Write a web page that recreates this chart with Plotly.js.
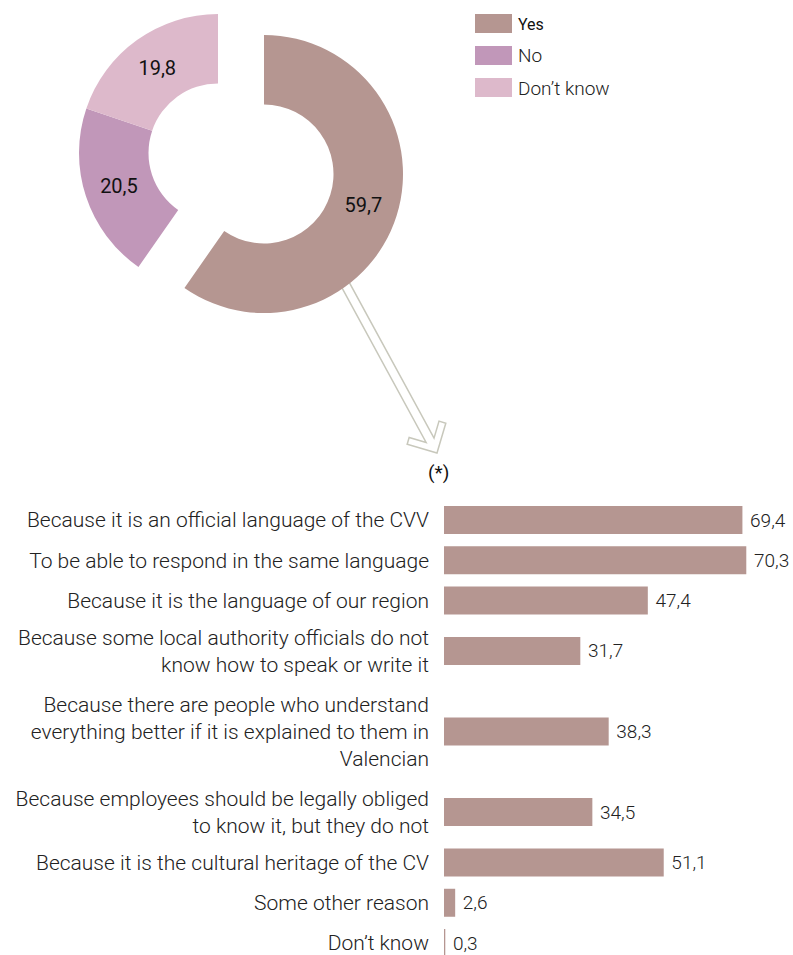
<!DOCTYPE html>
<html><head><meta charset="utf-8">
<script src="https://cdn.plot.ly/plotly-3.0.1.min.js"></script>
<style>html,body{margin:0;padding:0;background:#fff}</style>
</head><body>
<div id="chart" style="width:793px;height:955px"></div>
<script>
// ---- data ----
const pieLabels = ["Yes", "No", "Don’t know"];
const pieValues = [59.7, 20.5, 19.8];

const barCategories = [
  "Because it is an official language of the CVV",
  "To be able to respond in the same language",
  "Because it is the language of our region",
  "Because some local authority officials do not<br>know how to speak or write it",
  "Because there are people who understand<br>everything better if it is explained to them in<br>Valencian",
  "Because employees should be legally obliged<br>to know it, but they do not",
  "Because it is the cultural heritage of the CV",
  "Some other reason",
  "Don’t know"
];
const barValues = [69.4, 70.3, 47.4, 31.7, 38.3, 34.5, 51.1, 2.6, 0.3];

// ---- styling / layout helpers ----
const W = 793, H = 955;
const px = x => x / W, py = y => 1 - y / H;
const pieColors = ["#b59691", "#c197b9", "#ddb9cb"];
const barColor = "#b59691";
const clear = "rgba(0,0,0,0)";
const fmt = v => v.toFixed(1).replace('.', ',');
const FONT = "'Roboto Light', Roboto, 'Open Sans', sans-serif";

// pie: unexploded part (No, Don't know) and exploded Yes slice as two traces
const pieCommon = {
  type: 'pie', labels: pieLabels, values: pieValues, hole: 0.5,
  sort: false, direction: 'clockwise', rotation: 0,
  textinfo: 'text', textposition: 'inside', insidetextorientation: 'horizontal',
  insidetextfont: {family: "Roboto, sans-serif", size: 20, color: '#111', weight: 400},
  hoverinfo: 'skip', showlegend: false, marker: {line: {width: 0}}
};
const pieRest = Object.assign({}, pieCommon, {
  marker: {colors: [clear, pieColors[1], pieColors[2]], line: {width: 0}},
  text: pieValues.map((v, i) => i === 0 ? '' : fmt(v)),
  domain: {x: [px(79), px(357)], y: [py(292), py(14)]}
});
const pieYes = Object.assign({}, pieCommon, {
  marker: {colors: [pieColors[0], clear, clear], line: {width: 0}},
  text: pieValues.map((v, i) => i === 0 ? fmt(v) : ''),
  domain: {x: [px(125), px(403)], y: [py(313), py(35)]}
});

// bar positions: slot height depends on number of label lines
const lineCounts = barCategories.map(c => c.split('<br>').length);
const slot = lineCounts.map(n => n === 1 ? 1 : n - 0.5);
const yPos = [];
let acc = 0;
slot.forEach((s, i) => { if (i > 0) acc += (slot[i - 1] + s) / 2; yPos.push(acc); });
const unit = 40.29;      // px per slot unit
const firstBarPx = 520;  // pixel y of first bar centre
const plotTop = 490, plotBottom = 955;

const bars = {
  type: 'bar', orientation: 'h', x: barValues, y: yPos, width: 28 / unit,
  marker: {color: barColor},
  text: barValues.map(v => '\u00a0' + fmt(v)), textposition: 'outside',
  textfont: {family: FONT, size: 19, color: '#222', weight: 300},
  constraintext: 'none', cliponaxis: false, hoverinfo: 'skip', showlegend: false,
  xaxis: 'x', yaxis: 'y'
};

// hollow arrow
function arrowPath(S, T) {
  const dx = T[0] - S[0], dy = T[1] - S[1], L = Math.hypot(dx, dy);
  const u = [dx / L, dy / L], n = [-u[1], u[0]];
  const w = 4.5;
  const local = [[L, w], [14.5, w], [27, 17], [22, 22], [0, 0], [22, -22], [27, -17], [14.5, -w], [L, -w]];
  const pts = local.map(([s, l]) => [T[0] - s * u[0] + l * n[0], T[1] - s * u[1] + l * n[1]]);
  return 'M' + pts.map(p => px(p[0]).toFixed(5) + ',' + py(p[1]).toFixed(5)).join('L') + 'Z';
}

const shapes = [{
  type: 'path', xref: 'paper', yref: 'paper', layer: 'below',
  path: arrowPath([345, 284], [437, 453]),
  line: {color: '#c8c8bc', width: 1.5}, fillcolor: '#ffffff'
}];
const annotations = [{
  xref: 'paper', yref: 'paper', x: px(438), y: py(472), xanchor: 'center', yanchor: 'middle',
  text: '(*)', showarrow: false, font: {family: "Roboto, sans-serif", size: 19, color: '#111', weight: 400}
}];
// legend
pieLabels.forEach((lab, i) => {
  const top = 14 + 32 * i;
  shapes.push({type: 'rect', xref: 'paper', yref: 'paper', x0: px(475), x1: px(512),
    y0: py(top + 19), y1: py(top), fillcolor: pieColors[i], line: {width: 0}});
  annotations.push({xref: 'paper', yref: 'paper', x: px(516), y: py(top + 10),
    xanchor: 'left', yanchor: 'middle', text: lab, showarrow: false,
    font: i === 0 ? {family: "Roboto, sans-serif", size: 16, color: '#111', weight: 400}
                  : {family: FONT, size: 19, color: '#222', weight: 300}});
});

const layout = {
  width: W, height: H, margin: {l: 0, r: 0, t: 0, b: 0},
  paper_bgcolor: '#fff', plot_bgcolor: 'rgba(0,0,0,0)',
  font: {family: FONT, size: 20, color: '#222', weight: 300},
  separators: ',.',
  showlegend: false,
  xaxis: {domain: [px(444), 1], range: [0, (W - 444) / 4.3], showgrid: false, zeroline: false,
          showline: false, showticklabels: false, fixedrange: true},
  yaxis: {domain: [py(plotBottom), py(plotTop)],
          range: [(plotBottom - firstBarPx) / unit, (plotTop - firstBarPx) / unit],
          tickvals: yPos, ticktext: barCategories, ticks: '', showgrid: false, zeroline: false,
          showline: false, ticklabelstandoff: 14, ticklabeloverflow: 'allow',
          tickfont: {family: FONT, size: 21, color: '#222', weight: 300}, fixedrange: true},
  shapes: shapes, annotations: annotations
};

Plotly.newPlot('chart', [bars, pieRest, pieYes], layout, {displayModeBar: false, staticPlot: true});
</script>
</body></html>
